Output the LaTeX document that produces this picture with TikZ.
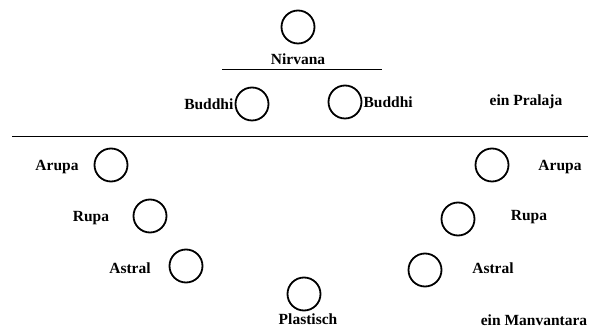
\documentclass[tikz,border=0pt]{standalone}
\usepackage{fontspec}
\setmainfont{Liberation Serif}
\usepackage{tikz}
\usetikzlibrary{positioning}

\begin{document}
\begin{tikzpicture}[x=1pt, y=-1pt,
    ring/.style={draw, circle, line width=1.8pt, minimum size=33pt, inner sep=0pt},
    lbl/.style={font=\fontsize{15.5}{17}\selectfont\bfseries, inner sep=1pt},
    rule/.style={line width=1pt}]
\useasboundingbox (0,0) rectangle (592,328);

% upper part
\node[ring] (nirvana) at (298,27) {};
\node[lbl] (nirvanalbl) at (298,59) {Nirvana};
\draw[rule] (222,70) -- (382,70);

\node[ring] (buddhiL) at (252,104) {};
\node[lbl, left=0pt of buddhiL] (buddhiLlbl) {Buddhi};
\node[ring] (buddhiR) at (345,102) {};
\node[lbl, right=0pt of buddhiR] (buddhiRlbl) {Buddhi};
\node[lbl] (pralaja) at (526,102) {ein Pralaja};

\draw[rule] (12,137) -- (588,137);

% left side
\node[ring] (arupaL) at (111,165) {};
\node[lbl] (arupaLlbl) at (57,167) {Arupa};
\node[ring] (rupaL) at (150,216) {};
\node[lbl] (rupaLlbl) at (91,218) {Rupa};
\node[ring] (astralL) at (186,266) {};
\node[lbl] (astralLlbl) at (130,268) {Astral};

% right side
\node[ring] (arupaR) at (492,165) {};
\node[lbl] (arupaRlbl) at (560,167) {Arupa};
\node[ring] (rupaR) at (458,219) {};
\node[lbl] (rupaRlbl) at (529,217) {Rupa};
\node[ring] (astralR) at (425,270) {};
\node[lbl] (astralRlbl) at (493,268) {Astral};

% bottom
\node[ring] (plastisch) at (304,294) {};
\node[lbl] (plastischlbl) at (308,319) {Plastisch};
\node[lbl] (manvantara) at (534,320) {ein Manvantara};
\end{tikzpicture}
\end{document}
